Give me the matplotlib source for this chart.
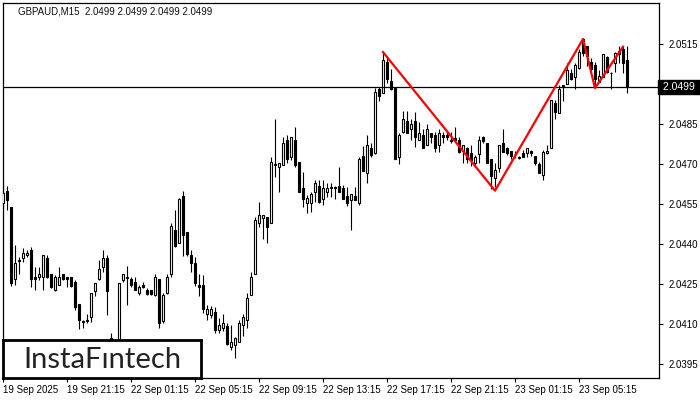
import matplotlib
matplotlib.use("Agg")
import matplotlib.pyplot as plt

plt.rcParams['font.family'] = ['Liberation Sans', 'DejaVu Sans']

# GBPAUD M15 candles (open, high, low, close)
opens = [2.04554, 2.04599, 2.04539, 2.04269, 2.04340, 2.04348, 2.04359, 2.04378, 2.04276, 2.04276,
         2.04276, 2.04348, 2.04288, 2.04228, 2.04246, 2.04288, 2.04276, 2.04276, 2.04258, 2.04175,
         2.04111, 2.04115, 2.04126, 2.04224, 2.04269, 2.04314, 2.04348, 2.04048, 2.04021, 2.03965,
         2.04265, 2.04276, 2.04269, 2.04258, 2.04216, 2.04246, 2.04228, 2.04228, 2.04209, 2.04269,
         2.04111, 2.04216, 2.04288, 2.04453, 2.04404, 2.04580, 2.04445, 2.04359, 2.04329, 2.04246,
         2.04246, 2.04138, 2.04134, 2.04145, 2.04078, 2.04085, 2.04093, 2.04014, 2.04021, 2.04033,
         2.04096, 2.04115, 2.04209, 2.04288, 2.04479, 2.04498, 2.04501, 2.04479, 2.04696, 2.04689,
         2.04696, 2.04790, 2.04726, 2.04790, 2.04708, 2.04610, 2.04554, 2.04554, 2.04595, 2.04618,
         2.04569, 2.04595, 2.04614, 2.04614, 2.04618, 2.04610, 2.04580, 2.04565, 2.04580, 2.04554,
         2.04730, 2.04666, 2.04760, 2.04741, 2.04981, 2.04966, 2.05083, 2.05011, 2.04985, 2.04726,
         2.04820, 2.04861, 2.04831, 2.04861, 2.04790, 2.04809, 2.04771, 2.04816, 2.04809, 2.04771,
         2.04809, 2.04809, 2.04790, 2.04798, 2.04790, 2.04749, 2.04760, 2.04741, 2.04704, 2.04738,
         2.04801, 2.04779, 2.04719, 2.04648, 2.04685, 2.04779, 2.04760, 2.04749, 2.04738, 2.04726,
         2.04741, 2.04741, 2.04749, 2.04730, 2.04700, 2.04659, 2.04741, 2.04760, 2.04929, 2.04891,
         2.04993, 2.05000, 2.05041, 2.05026, 2.05060, 2.05169, 2.05143, 2.05083, 2.05071, 2.05008,
         2.05026, 2.05101, 2.05041, 2.05079, 2.05124, 2.05131, 2.05090]
highs = [2.04640, 2.04618, 2.04539, 2.04396, 2.04351, 2.04385, 2.04378, 2.04389, 2.04314, 2.04314,
         2.04359, 2.04359, 2.04288, 2.04284, 2.04314, 2.04288, 2.04276, 2.04276, 2.04265, 2.04175,
         2.04115, 2.04138, 2.04216, 2.04254, 2.04340, 2.04378, 2.04359, 2.04066, 2.04029, 2.04254,
         2.04288, 2.04318, 2.04276, 2.04276, 2.04246, 2.04258, 2.04235, 2.04228, 2.04288, 2.04269,
         2.04216, 2.04288, 2.04479, 2.04528, 2.04573, 2.04599, 2.04445, 2.04378, 2.04351, 2.04288,
         2.04284, 2.04171, 2.04168, 2.04164, 2.04123, 2.04138, 2.04104, 2.04096, 2.04051, 2.04115,
         2.04138, 2.04216, 2.04295, 2.04501, 2.04558, 2.04509, 2.04501, 2.04726, 2.04869, 2.04704,
         2.04801, 2.04809, 2.04801, 2.04839, 2.04708, 2.04670, 2.04584, 2.04595, 2.04640, 2.04640,
         2.04640, 2.04629, 2.04629, 2.04618, 2.04689, 2.04621, 2.04614, 2.04588, 2.04614, 2.04726,
         2.04768, 2.04809, 2.04779, 2.04985, 2.04989, 2.05116, 2.05101, 2.05056, 2.04985, 2.04816,
         2.04899, 2.04899, 2.04869, 2.04895, 2.04858, 2.04831, 2.04850, 2.04816, 2.04820, 2.04831,
         2.04820, 2.04820, 2.04820, 2.04839, 2.04801, 2.04771, 2.04764, 2.04771, 2.04734, 2.04805,
         2.04805, 2.04779, 2.04719, 2.04704, 2.04771, 2.04831, 2.04764, 2.04749, 2.04749, 2.04730,
         2.04753, 2.04760, 2.04753, 2.04730, 2.04708, 2.04753, 2.04771, 2.04940, 2.04940, 2.04996,
         2.04996, 2.05079, 2.05056, 2.05079, 2.05131, 2.05173, 2.05143, 2.05098, 2.05083, 2.05053,
         2.05113, 2.05105, 2.05045, 2.05120, 2.05143, 2.05143, 2.05143]
lows = [2.04528, 2.04528, 2.04243, 2.04246, 2.04288, 2.04333, 2.04351, 2.04239, 2.04228, 2.04265,
        2.04228, 2.04273, 2.04235, 2.04224, 2.04246, 2.04265, 2.04239, 2.04239, 2.04153, 2.04081,
        2.04085, 2.04104, 2.04108, 2.04205, 2.04265, 2.04295, 2.04134, 2.04021, 2.03980, 2.03958,
        2.04258, 2.04171, 2.04239, 2.04228, 2.04209, 2.04235, 2.04209, 2.04209, 2.04205, 2.04085,
        2.04104, 2.04213, 2.04276, 2.04389, 2.04404, 2.04355, 2.04355, 2.04295, 2.04243, 2.04205,
        2.04141, 2.04115, 2.04123, 2.04066, 2.04066, 2.04074, 2.04021, 2.04003, 2.03973, 2.04033,
        2.04055, 2.04085, 2.04209, 2.04288, 2.04464, 2.04419, 2.04404, 2.04479, 2.04651, 2.04595,
        2.04696, 2.04704, 2.04715, 2.04689, 2.04595, 2.04539, 2.04516, 2.04520, 2.04558, 2.04554,
        2.04546, 2.04576, 2.04576, 2.04569, 2.04595, 2.04569, 2.04543, 2.04453, 2.04565, 2.04546,
        2.04674, 2.04629, 2.04726, 2.04738, 2.04936, 2.04966, 2.05004, 2.04978, 2.04719, 2.04700,
        2.04816, 2.04816, 2.04790, 2.04764, 2.04790, 2.04760, 2.04771, 2.04779, 2.04745, 2.04745,
        2.04779, 2.04790, 2.04779, 2.04783, 2.04741, 2.04704, 2.04704, 2.04693, 2.04689, 2.04704,
        2.04779, 2.04704, 2.04606, 2.04614, 2.04670, 2.04745, 2.04734, 2.04719, 2.04723, 2.04719,
        2.04726, 2.04726, 2.04730, 2.04696, 2.04666, 2.04640, 2.04738, 2.04760, 2.04869, 2.04891,
        2.04936, 2.05000, 2.05015, 2.04981, 2.05056, 2.05105, 2.05068, 2.05041, 2.04996, 2.05008,
        2.05026, 2.05041, 2.04981, 2.05045, 2.05079, 2.05041, 2.04966]
closes = [2.04591, 2.04565, 2.04254, 2.04329, 2.04336, 2.04366, 2.04366, 2.04269, 2.04269, 2.04288,
          2.04359, 2.04276, 2.04239, 2.04276, 2.04276, 2.04269, 2.04269, 2.04243, 2.04164, 2.04115,
          2.04108, 2.04113, 2.04216, 2.04254, 2.04306, 2.04348, 2.04224, 2.04040, 2.03995, 2.04254,
          2.04288, 2.04274, 2.04246, 2.04228, 2.04239, 2.04239, 2.04213, 2.04213, 2.04276, 2.04104,
          2.04209, 2.04276, 2.04468, 2.04393, 2.04569, 2.04434, 2.04363, 2.04329, 2.04254, 2.04239,
          2.04156, 2.04156, 2.04156, 2.04078, 2.04096, 2.04104, 2.04025, 2.04033, 2.04048, 2.04104,
          2.04126, 2.04198, 2.04276, 2.04490, 2.04509, 2.04509, 2.04464, 2.04708, 2.04700, 2.04704,
          2.04779, 2.04719, 2.04801, 2.04696, 2.04595, 2.04569, 2.04573, 2.04588, 2.04629, 2.04558,
          2.04610, 2.04610, 2.04612, 2.04610, 2.04595, 2.04569, 2.04554, 2.04588, 2.04565, 2.04719,
          2.04674, 2.04771, 2.04734, 2.04970, 2.04955, 2.05090, 2.05019, 2.04981, 2.04719, 2.04809,
          2.04869, 2.04816, 2.04850, 2.04801, 2.04816, 2.04760, 2.04831, 2.04801, 2.04760, 2.04816,
          2.04801, 2.04801, 2.04788, 2.04790, 2.04745, 2.04771, 2.04719, 2.04715, 2.04726, 2.04790,
          2.04786, 2.04704, 2.04655, 2.04678, 2.04771, 2.04745, 2.04741, 2.04730, 2.04736, 2.04724,
          2.04726, 2.04760, 2.04741, 2.04704, 2.04666, 2.04745, 2.04749, 2.04940, 2.04895, 2.04981,
          2.04996, 2.05053, 2.05019, 2.05071, 2.05120, 2.05116, 2.05105, 2.05056, 2.05019, 2.05030,
          2.05113, 2.05045, 2.05043, 2.05116, 2.05113, 2.05079, 2.04990]

# double top pattern (red polyline)
pattern_idx = [95, 123, 145, 148, 155]
pattern_px = [2.05120, 2.04600, 2.05169, 2.04985, 2.05140]

last_price = 2.0499
y_ticks = [2.0515, 2.0485, 2.0470, 2.0455, 2.0440, 2.0425, 2.0410, 2.0395]
x_tick_idx = [0, 16, 32, 48, 64, 80, 96, 112, 128, 144]
x_tick_labels = ['19 Sep 2025', '19 Sep 21:15', '22 Sep 01:15', '22 Sep 05:15', '22 Sep 09:15',
                 '22 Sep 13:15', '22 Sep 17:15', '22 Sep 21:15', '23 Sep 01:15', '23 Sep 05:15']

fig = plt.figure(figsize=(7, 4), dpi=100)
ax = fig.add_axes([3 / 700, 22 / 400, 656 / 700, 375 / 400])

for i in range(len(opens)):
    o, h, l, c = opens[i], highs[i], lows[i], closes[i]
    ax.vlines(i, l, h, color='black', linewidth=0.8, zorder=2)
    fc = 'white' if c >= o else 'black'
    ax.bar(i, abs(c - o), bottom=min(o, c), width=0.65, facecolor=fc,
           edgecolor='black', linewidth=0.8, zorder=3)

ax.axhline(last_price, color='black', linewidth=0.9, zorder=4)
ax.plot(pattern_idx, pattern_px, color='#ff0000', linewidth=1.6, zorder=5)

ax.set_xlim(0, 164)
ax.set_ylim(2.038975, 2.05304)

ax.yaxis.tick_right()
ax.set_yticks(y_ticks)
ax.set_yticklabels(['%.4f' % v for v in y_ticks])
ax.set_xticks(x_tick_idx)
ax.set_xticklabels(x_tick_labels, ha='left')
ax.tick_params(axis='both', labelsize=7, length=3, width=0.8, colors='black', pad=2)
ax.tick_params(axis='y', pad=4)
for s in ax.spines.values():
    s.set_linewidth(0.9)

# current price label
ax.text(1.002, last_price, ' 2.0499 ', transform=ax.get_yaxis_transform(), fontsize=7.5,
        color='white', va='center', ha='left',
        bbox=dict(boxstyle='square,pad=0.2', facecolor='black', edgecolor='black'))

fig.text(18 / 700, 1 - 11 / 400, 'GBPAUD,M15  2.0499 2.0499 2.0499 2.0499',
         fontsize=7, color='#111111', va='center', ha='left')

# logo box
logo = fig.add_axes([3 / 700, 22 / 400, 198 / 700, 38 / 400])
logo.set_xticks([])
logo.set_yticks([])
logo.set_facecolor('white')
for s in logo.spines.values():
    s.set_linewidth(2)
logo.text(0.5, 0.47, 'InstaFıntech', fontsize=21, color='#222222', ha='center', va='center',
          family=['Lato', 'DejaVu Sans'])

fig.savefig('out.png', dpi=100)
